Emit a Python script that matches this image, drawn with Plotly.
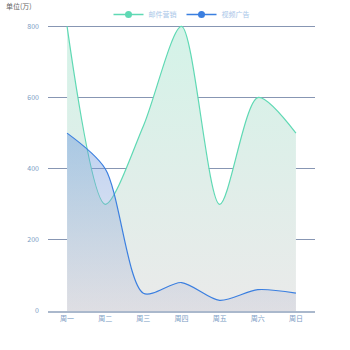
import plotly.graph_objects as go

categories = ["周一", "周二", "周三", "周四", "周五", "周六", "周日"]
email_vals = [800, 300, 520, 800, 300, 600, 500]
video_vals = [500, 400, 50, 80, 30, 60, 50]
y_ticks = [0, 200, 400, 600, 800]
series_names = ["邮件营销", "视频广告"]

green = "#5fd9b4"
blue = "#3b7fe0"
font = "Noto Sans CJK SC"

fig = go.Figure()
fig.add_trace(go.Scatter(
    x=categories, y=email_vals, mode="lines", name=series_names[0],
    line=dict(color=green, width=1.2, shape="spline", smoothing=0.8),
    fill="tozeroy",
    fillgradient=dict(type="vertical", start=0, stop=800,
                      colorscale=[[0, "rgb(234,234,234)"], [1, "rgb(212,243,232)"]]),
    showlegend=False, hoverinfo="skip"))
fig.add_trace(go.Scatter(
    x=categories, y=video_vals, mode="lines", name=series_names[1],
    line=dict(color=blue, width=1.2, shape="spline", smoothing=0.8),
    fill="tozeroy",
    fillgradient=dict(type="vertical", start=0, stop=500,
                      colorscale=[[0, "rgba(200,200,215,0.35)"], [1, "rgba(90,140,220,0.4)"]]),
    showlegend=False, hoverinfo="skip"))
for nm, c in zip(series_names, [green, blue]):
    fig.add_trace(go.Scatter(x=[None], y=[None], mode="lines+markers", name=nm,
                             line=dict(color=c, width=1.5), marker=dict(color=c, size=7)))

fig.update_layout(
    width=350, height=350,
    margin=dict(l=48, r=35, t=25, b=39, autoexpand=False),
    paper_bgcolor="white", plot_bgcolor="white",
    font=dict(family=font, size=7, color="#7b9cc4"),
    showlegend=True,
    legend=dict(orientation="h", x=0.5, xanchor="center", y=1.0, yanchor="top",
                yref="container", font=dict(size=7, color="#a9c6e8"),
                itemwidth=30, tracegroupgap=0, bgcolor="rgba(0,0,0,0)"),
)
fig.add_annotation(text="单位(万)", xref="paper", yref="paper", x=-0.165, y=1.066,
                   xanchor="left", yanchor="middle", showarrow=False,
                   font=dict(size=7, color="#666666"))

fig.update_xaxes(type="category", categoryorder="array", categoryarray=categories,
                 range=[-0.5, 6.5], showgrid=False, showline=True, linecolor="#aab8cc",
                 linewidth=2, ticks="", tickfont=dict(size=7, color="#7b9cc4"), zeroline=False)
fig.update_yaxes(range=[0, 804], tickvals=y_ticks, showgrid=True, gridcolor="#8796b3",
                 gridwidth=1, showline=False, zeroline=False, ticks="",
                 tickfont=dict(size=7, color="#7b9cc4"), ticklabelstandoff=8)

fig.write_html("out.html")
